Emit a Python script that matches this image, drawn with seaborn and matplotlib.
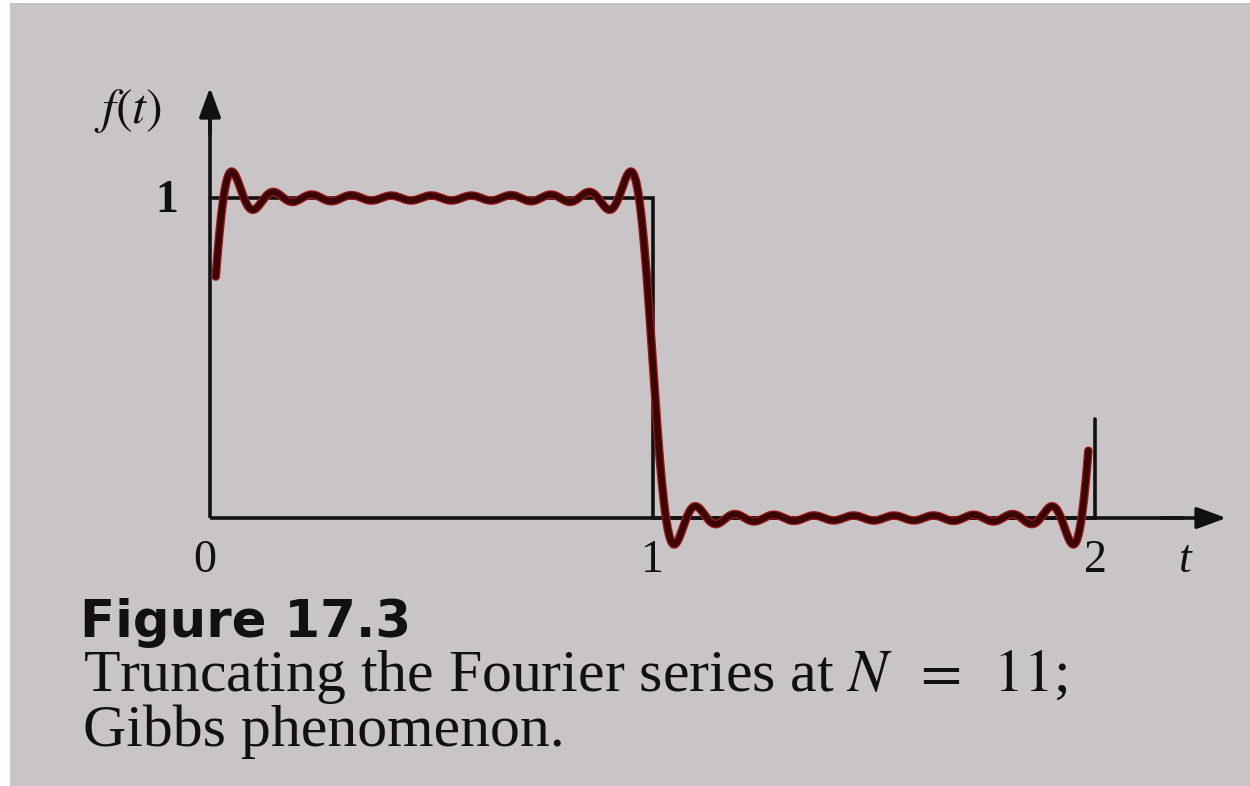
import numpy as np
import pandas as pd
import matplotlib
matplotlib.use("Agg")
import matplotlib.pyplot as plt
import seaborn as sns

# Square wave (period T = 2) approximated by its Fourier series truncated at N = 11 terms
dc_term = 0.5
harmonics = [1, 3, 5, 7, 9, 11, 13, 15, 17, 19, 21]
amplitudes = [0.6366, 0.2122, 0.1273, 0.0909, 0.0707, 0.0579,
              0.0490, 0.0407, 0.0329, 0.0251, 0.0182]

# Ideal square wave outline
square_t = [0.0, 1.0, 1.0, 2.0, 2.0]
square_f = [1.0, 1.0, 0.0, 0.0, 0.31]

t = np.linspace(0.013, 1.985, 3000)
f = dc_term + sum(a * np.sin(n * np.pi * t) for n, a in zip(harmonics, amplitudes))
df = pd.DataFrame({"t": t, "f": f})

sns.set_theme(style="white")
plt.rcParams["font.family"] = ["Liberation Serif", "DejaVu Serif"]
plt.rcParams["mathtext.fontset"] = "stix"

paper = "#c9c4c6"
fig = plt.figure(figsize=(12.5, 7.86), dpi=100)
fig.patch.set_facecolor("white")
ax = fig.add_axes([10 / 1250, 0, 1240 / 1250, 783 / 786])
ax.set_facecolor(paper)

# pixel-aligned data window: t=0 at x=210, t=2 at x=1095; f=0 at y=518, f=1 at y=198
px_t = 442.5
px_f = 320.0
ax.set_xlim((10 - 210) / px_t, (1250 - 210) / px_t)
ax.set_ylim(-(786 - 518) / px_f, (518 - 3) / px_f)
for s in ax.spines.values():
    s.set_visible(False)
ax.set_xticks([])
ax.set_yticks([])

ink = "#111111"
# axes with arrowheads
ax.plot([0, 0], [0, 1.25], color=ink, lw=2.6, solid_capstyle="butt", zorder=3)
ax.annotate("", xy=(0, 1.345), xytext=(0, 1.20),
            arrowprops=dict(arrowstyle="-|>,head_length=1.5,head_width=0.55",
                            color=ink, lw=2.6, shrinkA=0, shrinkB=0), zorder=3)
ax.plot([0, 2.2], [0, 0], color=ink, lw=2.6, solid_capstyle="butt", zorder=3)
ax.annotate("", xy=(2.297, 0), xytext=(2.15, 0),
            arrowprops=dict(arrowstyle="-|>,head_length=1.5,head_width=0.55",
                            color=ink, lw=2.6, shrinkA=0, shrinkB=0), zorder=3)

# ideal square wave
ax.plot(square_t, square_f, color=ink, lw=2.6, solid_joinstyle="miter", zorder=3)

# truncated series
sns.lineplot(data=df, x="t", y="f", ax=ax, color="#a01818", lw=6.2, zorder=4,
             sort=False, estimator=None)
sns.lineplot(data=df, x="t", y="f", ax=ax, color="#3a0606", lw=4.4, zorder=5,
             sort=False, estimator=None)
ax.set_xlabel("")
ax.set_ylabel("")

# axis labels
ax.text(-0.262, 1.235, r"$f(t)$", fontsize=36, color=ink, ha="left", va="baseline")
ax.text(-0.072, 0.955, "1", fontsize=33, color=ink, fontweight="bold",
        ha="right", va="baseline")
ax.text(-0.012, -0.168, "0", fontsize=33, color=ink, ha="center", va="baseline")
ax.text(1.0, -0.168, "1", fontsize=33, color=ink, ha="center", va="baseline")
ax.text(2.0, -0.168, "2", fontsize=33, color=ink, ha="center", va="baseline")
ax.text(2.205, -0.168, "t", fontsize=33, color=ink, style="italic",
        ha="center", va="baseline")

# caption
fig.text(80 / 1250, 1 - 637 / 786, "Figure 17.3", fontsize=37, fontweight="bold",
         family=["DejaVu Sans"], color=ink, ha="left", va="baseline")
fig.text(83 / 1250, 1 - 691 / 786,
         r"Truncating the Fourier series at $N\;\;=\;\;11$;",
         fontsize=43, color=ink, ha="left", va="baseline")
fig.text(83 / 1250, 1 - 746 / 786, "Gibbs phenomenon.",
         fontsize=43, color=ink, ha="left", va="baseline")

fig.savefig("out.png", dpi=100, facecolor=fig.get_facecolor())
